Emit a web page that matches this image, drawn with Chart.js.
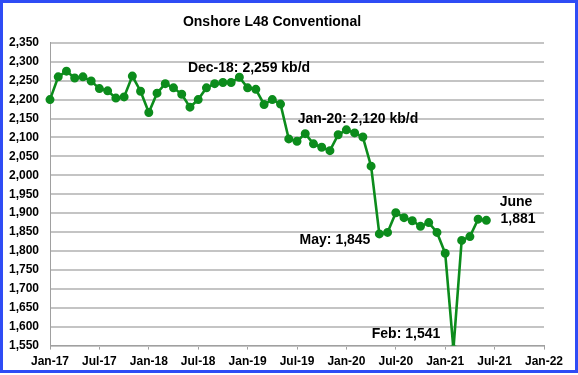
<!DOCTYPE html>
<html>
<head>
<meta charset="utf-8">
<script src="https://cdn.jsdelivr.net/npm/chart.js@4/dist/chart.umd.min.js"></script>
<style>
  body { margin: 0; background: #fff; }
  #wrap { position: relative; width: 578px; height: 375px; }
  #myCanvas { display: block; }
  #frame { position: absolute; left: 0; top: 0; width: 578px; height: 373px;
           box-sizing: border-box; border: 3px solid #2f4cf5; pointer-events: none; }
</style>
</head>
<body>
<div id="wrap">
  <canvas id="myCanvas" width="578" height="375"></canvas>
  <div id="frame"></div>
</div>
<script>
// months Jan-17 .. Jan-22 (axis runs one step past the data)
var months = [];
var mnames = ["Jan","Feb","Mar","Apr","May","Jun","Jul","Aug","Sep","Oct","Nov","Dec"];
for (var yr = 17; yr <= 22; yr++) {
  for (var m = 0; m < 12; m++) {
    months.push(mnames[m] + "-" + yr);
    if (yr == 22) break;
  }
}

// kb/d, Jan-17 .. Jun-21
var production = [
  2200, 2260, 2275, 2257, 2260, 2249, 2229, 2223, 2204, 2207, 2262, 2222,
  2166, 2217, 2242, 2231, 2214, 2180, 2200, 2231, 2242, 2245, 2245, 2259,
  2231, 2227, 2187, 2200, 2188, 2096, 2090, 2110, 2083, 2074, 2065, 2107,
  2120, 2112, 2101, 2024, 1845, 1849, 1901, 1888, 1880, 1865, 1875, 1849,
  1794, 1541, 1828, 1838, 1884, 1881
];

var yTicks = [1550, 2350, 50]; // min, max, step

var notes = [
  { text: "Dec-18: 2,259 kb/d", x: 249, y: 68 },
  { text: "Jan-20: 2,120 kb/d", x: 358, y: 119 },
  { text: "May: 1,845", x: 335, y: 240 },
  { text: "Feb: 1,541", x: 406, y: 334 },
  { text: "June", x: 516, y: 202 },
  { text: "1,881", x: 518, y: 219 }
];

var green = "#0c8c1c";

var notePlugin = {
  id: "notes",
  afterDatasetsDraw: function (chart) {
    var ctx = chart.ctx;
    ctx.save();
    ctx.fillStyle = "#000";
    ctx.font = "bold 14px 'Liberation Sans', Arial";
    ctx.textAlign = "center";
    ctx.textBaseline = "middle";
    notes.forEach(function (n) { ctx.fillText(n.text, n.x, n.y); });
    ctx.restore();
  }
};

var ctx = document.getElementById("myCanvas").getContext("2d");
new Chart(ctx, {
  type: "line",
  data: {
    labels: months,
    datasets: [{
      data: production,
      borderColor: green,
      backgroundColor: green,
      borderWidth: 2.6,
      pointRadius: 3.2,
      pointHoverRadius: 3.2,
      tension: 0
    }]
  },
  options: {
    responsive: false,
    animation: false,
    events: [],
    layout: { padding: { left: 0, right: 34, bottom: 1 } },
    plugins: {
      legend: { display: false },
      tooltip: { enabled: false },
      title: {
        display: true,
        text: "Onshore L48 Conventional",
        color: "#000",
        font: { family: "'Liberation Sans', Arial", size: 14, weight: "bold" },
        padding: { top: 14, bottom: 12 }
      }
    },
    scales: {
      x: {
        type: "category",
        offset: false,
        grid: { drawOnChartArea: false, color: "#a0a0a0", tickLength: 4 },
        border: { color: "#a0a0a0", width: 1 },
        ticks: {
          autoSkip: false,
          maxRotation: 0,
          padding: 5,
          color: "#000",
          font: { family: "'Liberation Sans', Arial", size: 12, weight: "bold" },
          callback: function (v, i) { return i % 6 == 0 ? months[i] : null; }
        }
      },
      y: {
        min: yTicks[0],
        max: yTicks[1],
        afterFit: function (s) { s.width = 50; },
        grid: { color: "#c4c4c4", lineWidth: 2, drawTicks: false },
        border: { color: "#a0a0a0", width: 1 },
        ticks: {
          stepSize: yTicks[2],
          padding: 11,
          color: "#000",
          font: { family: "'Liberation Sans', Arial", size: 12, weight: "bold" },
          callback: function (v) { return v.toLocaleString("en-US"); }
        }
      }
    }
  },
  plugins: [notePlugin]
});
</script>
</body>
</html>
